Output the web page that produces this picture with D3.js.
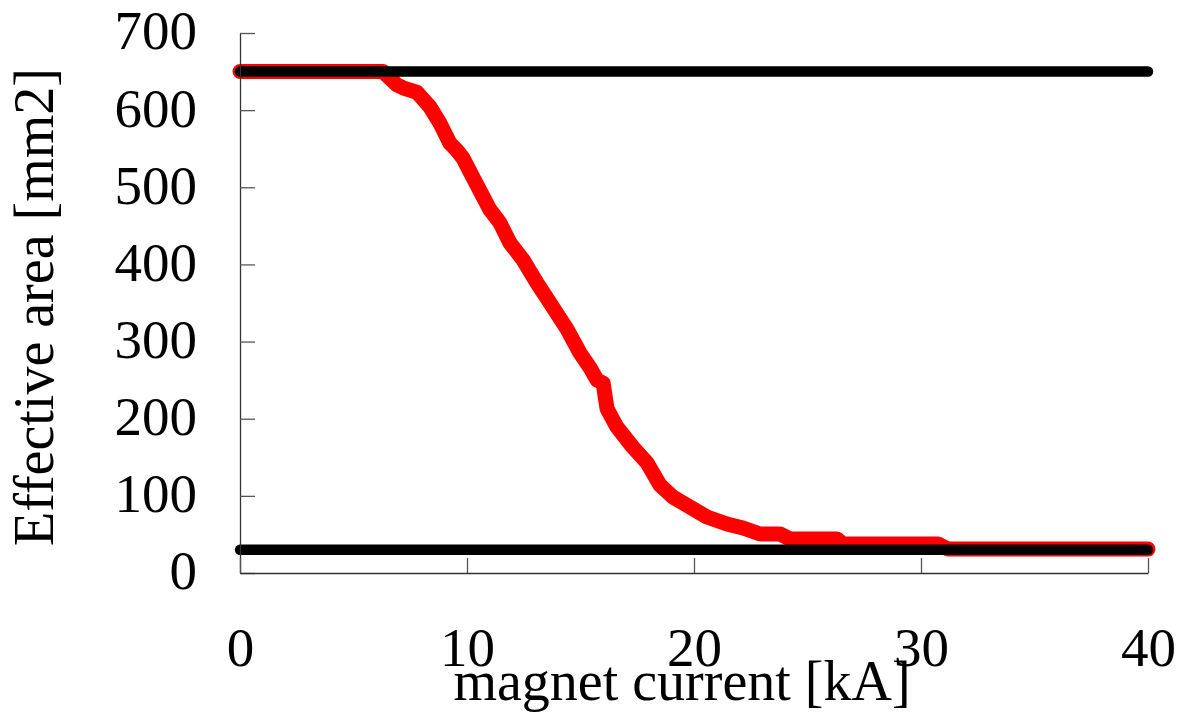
<!DOCTYPE html>
<html>
<head>
<meta charset="utf-8">
<script src="https://cdn.jsdelivr.net/npm/d3@7"></script>
<style>
  body { margin: 0; background: #fff; }
  text { font-family: "Liberation Serif", "Times New Roman", serif; fill: #000; }
</style>
</head>
<body>
<svg id="chart" width="1181" height="720"></svg>
<script>
// Measured effective area versus magnet current
const currentKA = [0, 6.30, 6.48, 6.90, 7.18, 7.80, 8.37, 8.81, 9.25, 9.55, 9.82, 10.26, 11.01, 11.45, 11.89, 12.47,
  13.08, 13.66, 14.41, 14.98, 15.42, 15.73, 16.00, 16.08, 16.17, 16.61, 17.31, 17.93, 18.50, 19.07, 19.82, 20.57,
  21.45, 22.16, 22.91, 23.79, 24.23, 26.30, 26.56, 30.75, 31.19, 40];
const effectiveArea = [650, 650, 645, 633, 629, 623, 604, 583, 557, 548, 538, 513, 471, 454, 428, 406,
  376, 350, 316, 285, 266, 250, 246, 230, 213, 189, 163, 143, 114, 98.5, 85.6, 72.6,
  63.5, 58.3, 50.6, 50.6, 44, 44, 37.6, 37.6, 31, 31];

// Reference limits (upper and lower bounds)
const limitValues = [650, 30];

const xTickValues = [0, 10, 20, 30, 40];
const yTickValues = [0, 100, 200, 300, 400, 500, 600, 700];
const xTitle = "magnet current [kA]";
const yTitle = "Effective area [mm2]";

const svg = d3.select("#chart");
const x = d3.scaleLinear().domain([0, 40]).range([240, 1148]);
const y = d3.scaleLinear().domain([0, 700]).range([573, 33]);

const fontSize = 55;

// Measured curve
const series = currentKA.map((c, i) => ({ c, a: effectiveArea[i] }));
const line = d3.line().x(d => x(d.c)).y(d => y(d.a));
svg.append("path")
  .datum(series)
  .attr("d", line)
  .attr("fill", "none")
  .attr("stroke", "#ff0000")
  .attr("stroke-width", 15)
  .attr("stroke-linejoin", "round")
  .attr("stroke-linecap", "round");

// Limit lines drawn over the curve
svg.selectAll("line.limit")
  .data(limitValues)
  .join("line")
  .attr("class", "limit")
  .attr("x1", x(0)).attr("x2", x(40))
  .attr("y1", d => y(d)).attr("y2", d => y(d))
  .attr("stroke", "#000")
  .attr("stroke-width", 10.5)
  .attr("stroke-linecap", "round");

// Axes with inward ticks
const yAxis = d3.axisLeft(y).tickValues(yTickValues).tickSize(-15).tickSizeOuter(0).tickPadding(43);
const gy = svg.append("g").attr("transform", `translate(${x(0)},0)`).call(yAxis);
gy.selectAll("text").attr("dy", "0.29em").style("font-size", fontSize + "px")
  .style("font-family", '"Liberation Serif", "Times New Roman", serif');

const xAxis = d3.axisBottom(x).tickValues(xTickValues).tickSize(-15).tickSizeOuter(0);
const gx = svg.append("g").attr("transform", `translate(0,${y(0)})`).call(xAxis);
gx.selectAll("text").attr("y", 93).attr("dy", 0).style("font-size", fontSize + "px")
  .style("font-family", '"Liberation Serif", "Times New Roman", serif');

[gx, gy].forEach(g => {
  g.select(".domain").attr("stroke", "#333").attr("stroke-width", 1.3);
  g.selectAll(".tick line").attr("stroke", "#555").attr("stroke-width", 1.3);
});

// Axis titles
svg.append("text")
  .attr("x", 682).attr("y", 700)
  .attr("text-anchor", "middle")
  .style("font-size", "56px")
  .text(xTitle);

svg.append("text")
  .attr("transform", "translate(53,307) rotate(-90)")
  .attr("text-anchor", "middle")
  .style("font-size", "56px")
  .text(yTitle);
</script>
</body>
</html>
